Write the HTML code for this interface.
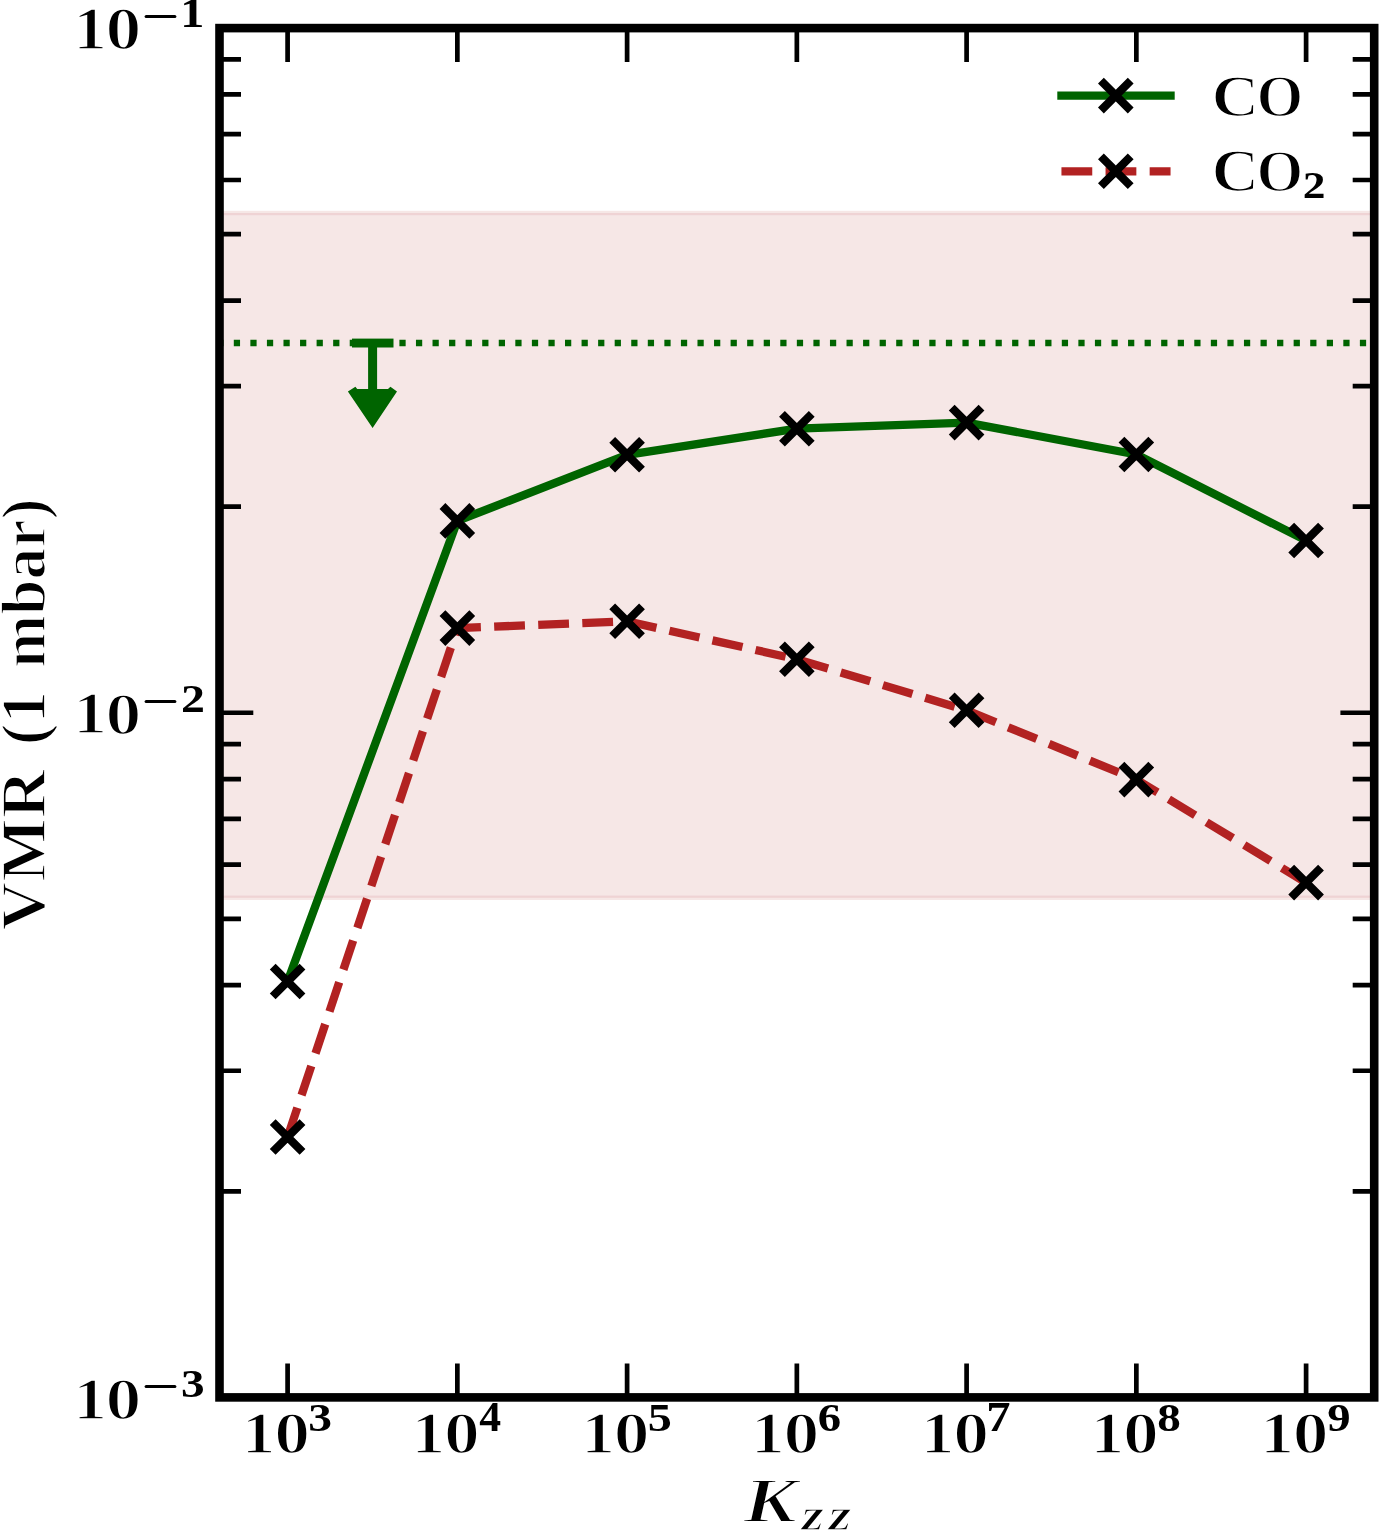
<!DOCTYPE html><html><head><meta charset="utf-8"><style>html,body{margin:0;padding:0;background:#fff;overflow:hidden;}svg{display:block;will-change:transform;}text{font-family:"Liberation Serif",serif;font-weight:bold;fill:#000;stroke:#fff;stroke-width:2.8px;}text.s{stroke:none;}</style></head><body>
<svg width="1379" height="1530" viewBox="0 0 1379 1530">
<rect x="0" y="0" width="1379" height="1530" fill="#fff"/>
<rect x="219.5" y="210.8" width="1154.7" height="689.2" fill="#f6e7e6"/>
<rect x="219.5" y="213" width="1154.7" height="2.2" fill="#efd3d4"/>
<rect x="219.5" y="895.6" width="1154.7" height="2.2" fill="#efd3d4"/>
<line x1="217.24" y1="343" x2="1374.2" y2="343" stroke="#006400" stroke-width="6.3" stroke-dasharray="6.25 10.31"/>
<rect x="352.0" y="338.6" width="41.5" height="8.9" fill="#006400"/>
<rect x="368.1" y="347" width="9" height="42.5" fill="#006400"/>
<polygon points="347.9,391.4 355.4,386.8 357.2,389 388,389 390.4,386.8 397,391.6 372.6,428.1" fill="#006400"/>
<polyline points="287.60,981.5 457.35,520.9 627.10,454.8 796.85,428.7 966.60,422.6 1136.35,454.5 1306.10,540.5" fill="none" stroke="#006400" stroke-width="8.3" stroke-linejoin="round" stroke-linecap="square"/>
<polyline points="287.60,1137.0 457.35,628.1 627.10,621.3 796.85,659.2 966.60,710.3 1136.35,779.6 1306.10,882.6" fill="none" stroke="#b22222" stroke-width="8.3" stroke-linejoin="round" stroke-linecap="butt" stroke-dasharray="30.8 13.3"/>
<path d="M272.70,966.60L302.50,996.40M272.70,996.40L302.50,966.60M442.45,506.00L472.25,535.80M442.45,535.80L472.25,506.00M612.20,439.90L642.00,469.70M612.20,469.70L642.00,439.90M781.95,413.80L811.75,443.60M781.95,443.60L811.75,413.80M951.70,407.70L981.50,437.50M951.70,437.50L981.50,407.70M1121.45,439.60L1151.25,469.40M1121.45,469.40L1151.25,439.60M1291.20,525.60L1321.00,555.40M1291.20,555.40L1321.00,525.60M272.70,1122.10L302.50,1151.90M272.70,1151.90L302.50,1122.10M442.45,613.20L472.25,643.00M442.45,643.00L472.25,613.20M612.20,606.40L642.00,636.20M612.20,636.20L642.00,606.40M781.95,644.30L811.75,674.10M781.95,674.10L811.75,644.30M951.70,695.40L981.50,725.20M951.70,725.20L981.50,695.40M1121.45,764.70L1151.25,794.50M1121.45,794.50L1151.25,764.70M1291.20,867.70L1321.00,897.50M1291.20,897.50L1321.00,867.70" stroke="#000" stroke-width="8.2" fill="none"/>
<line x1="1061.45" y1="95.6" x2="1170.55" y2="95.6" stroke="#006400" stroke-width="8.3" stroke-linecap="square"/>
<line x1="1061.45" y1="171.3" x2="1170.55" y2="171.3" stroke="#b22222" stroke-width="8.3" stroke-dasharray="30.8 13.3"/>
<path d="M1100.90,80.70L1130.70,110.50M1100.90,110.50L1130.70,80.70M1100.90,156.40L1130.70,186.20M1100.90,186.20L1130.70,156.40" stroke="#000" stroke-width="8.2" fill="none"/>
<path d="M287.60,1397.4V1363.60M287.60,28.1V61.90M457.35,1397.4V1363.60M457.35,28.1V61.90M627.10,1397.4V1363.60M627.10,28.1V61.90M796.85,1397.4V1363.60M796.85,28.1V61.90M966.60,1397.4V1363.60M966.60,28.1V61.90M1136.35,1397.4V1363.60M1136.35,28.1V61.90M1306.10,1397.4V1363.60M1306.10,28.1V61.90M219.5,1397.40H253.30M1374.2,1397.40H1340.40M219.5,712.75H253.30M1374.2,712.75H1340.40M219.5,28.10H253.30M1374.2,28.10H1340.40M219.5,1191.30H241.00M1374.2,1191.30H1352.70M219.5,1070.74H241.00M1374.2,1070.74H1352.70M219.5,985.20H241.00M1374.2,985.20H1352.70M219.5,918.85H241.00M1374.2,918.85H1352.70M219.5,864.64H241.00M1374.2,864.64H1352.70M219.5,818.80H241.00M1374.2,818.80H1352.70M219.5,779.10H241.00M1374.2,779.10H1352.70M219.5,744.08H241.00M1374.2,744.08H1352.70M219.5,506.65H241.00M1374.2,506.65H1352.70M219.5,386.09H241.00M1374.2,386.09H1352.70M219.5,300.55H241.00M1374.2,300.55H1352.70M219.5,234.20H241.00M1374.2,234.20H1352.70M219.5,179.99H241.00M1374.2,179.99H1352.70M219.5,134.15H241.00M1374.2,134.15H1352.70M219.5,94.45H241.00M1374.2,94.45H1352.70M219.5,59.43H241.00M1374.2,59.43H1352.70" stroke="#000" stroke-width="4.7" fill="none"/>
<rect x="219.5" y="28.1" width="1154.7" height="1369.3" fill="none" stroke="#000" stroke-width="8.6"/>
<text transform="translate(73.31,48.81) scale(0.6735,0.6063)" font-size="100">1</text><text transform="translate(105.48,48.80) scale(0.7169,0.6031)" font-size="100">0</text>
<text transform="translate(73.31,733.49) scale(0.6735,0.5953)" font-size="100">1</text><text transform="translate(105.48,733.50) scale(0.7169,0.5923)" font-size="100">0</text>
<text transform="translate(73.31,1418.60) scale(0.6735,0.6000)" font-size="100">1</text><text transform="translate(105.48,1418.60) scale(0.7169,0.5969)" font-size="100">0</text>
<line x1="146.20" y1="16.5" x2="174.80" y2="16.5" stroke="#000" stroke-width="3.2" stroke-linecap="round"/>
<line x1="146.20" y1="701.5" x2="174.80" y2="701.5" stroke="#000" stroke-width="3.2" stroke-linecap="round"/>
<line x1="146.20" y1="1386.5" x2="174.80" y2="1386.5" stroke="#000" stroke-width="3.2" stroke-linecap="round"/>
<text class="s" transform="translate(180.34,26.90) scale(0.4827,0.4121)" font-size="100">1</text>
<text class="s" transform="translate(181.12,712.30) scale(0.4790,0.4101)" font-size="100">2</text>
<text class="s" transform="translate(180.97,1397.19) scale(0.4721,0.4069)" font-size="100">3</text>
<text transform="translate(241.86,1452.70) scale(0.6735,0.5984)" font-size="100">1</text><text transform="translate(274.28,1452.70) scale(0.7169,0.5954)" font-size="100">0</text>
<text class="s" transform="translate(308.36,1430.99) scale(0.4744,0.4069)" font-size="100">3</text>
<text transform="translate(411.61,1452.70) scale(0.6735,0.5984)" font-size="100">1</text><text transform="translate(444.03,1452.70) scale(0.7169,0.5954)" font-size="100">0</text>
<text class="s" transform="translate(479.27,1431.40) scale(0.4371,0.4152)" font-size="100">4</text>
<text transform="translate(581.36,1452.70) scale(0.6735,0.5984)" font-size="100">1</text><text transform="translate(613.78,1452.70) scale(0.7169,0.5954)" font-size="100">0</text>
<text class="s" transform="translate(647.67,1430.99) scale(0.4819,0.4110)" font-size="100">5</text>
<text transform="translate(751.11,1452.70) scale(0.6735,0.5984)" font-size="100">1</text><text transform="translate(783.53,1452.70) scale(0.7169,0.5954)" font-size="100">0</text>
<text class="s" transform="translate(817.79,1430.99) scale(0.4672,0.4069)" font-size="100">6</text>
<text transform="translate(920.86,1452.70) scale(0.6735,0.5984)" font-size="100">1</text><text transform="translate(953.28,1452.70) scale(0.7169,0.5954)" font-size="100">0</text>
<text class="s" transform="translate(986.35,1431.40) scale(0.4857,0.4173)" font-size="100">7</text>
<text transform="translate(1090.61,1452.70) scale(0.6735,0.5984)" font-size="100">1</text><text transform="translate(1123.03,1452.70) scale(0.7169,0.5954)" font-size="100">0</text>
<text class="s" transform="translate(1157.28,1430.99) scale(0.4708,0.4069)" font-size="100">8</text>
<text transform="translate(1260.36,1452.70) scale(0.6735,0.5984)" font-size="100">1</text><text transform="translate(1292.78,1452.70) scale(0.7169,0.5954)" font-size="100">0</text>
<text class="s" transform="translate(1327.35,1430.99) scale(0.4672,0.4069)" font-size="100">9</text>
<text transform="translate(743.40,1521.75) scale(0.8010,0.6399)" font-size="100" font-style="italic">K</text>
<text transform="translate(801.58,1530.11) scale(0.5814,0.4605)" font-size="100" font-style="italic">z</text>
<text transform="translate(828.59,1530.11) scale(0.5920,0.4605)" font-size="100" font-style="italic">z</text>
<text transform="translate(44.50,930.50) rotate(-90) scale(0.6738,0.6281)" font-size="100">VMR</text>
<text transform="translate(44.50,745.30) rotate(-90) scale(0.6535,0.6281)" font-size="100">(1</text>
<text transform="translate(44.50,667.95) rotate(-90) scale(0.6366,0.6281)" font-size="100">mbar)</text>
<text transform="translate(1211.52,116.00) scale(0.6596,0.6000)" font-size="100">C</text>
<text transform="translate(1256.59,115.50) scale(0.6015,0.5922)" font-size="100">O</text>
<text transform="translate(1211.52,191.10) scale(0.6596,0.6078)" font-size="100">C</text>
<text transform="translate(1256.59,190.60) scale(0.6015,0.6000)" font-size="100">O</text>
<text class="s" transform="translate(1302.63,198.00) scale(0.4548,0.3754)" font-size="100">2</text>
</svg></body></html>
